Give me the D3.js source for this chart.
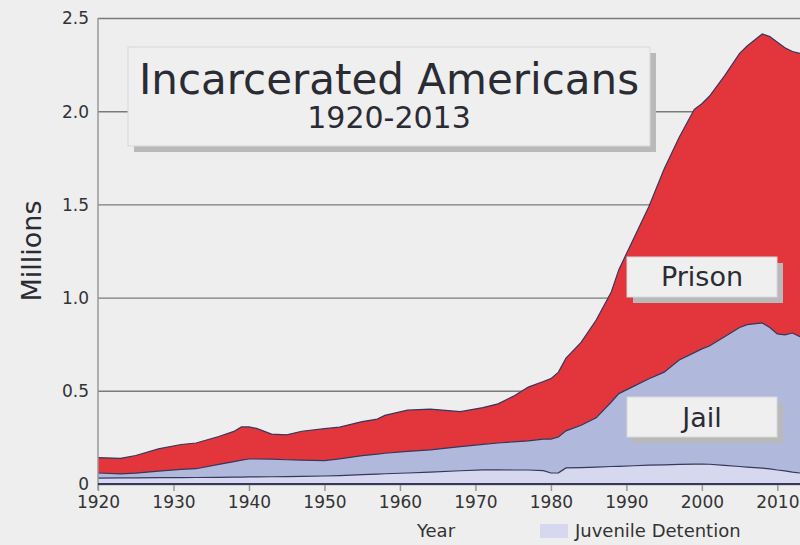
<!DOCTYPE html>
<html>
<head>
<meta charset="utf-8">
<script src="https://cdn.jsdelivr.net/npm/d3@7"></script>
<style>
  body { margin: 0; background: #eeeeee; }
  svg { display: block; font-family: 'DejaVu Sans', sans-serif; }
  .ticktext { fill: #333; font-size: 17px; font-family: 'DejaVu Sans', sans-serif; }
</style>
</head>
<body>
<svg width="800" height="545"></svg>
<script>
// data (millions)
const years = [1920, 1923, 1925, 1928, 1931, 1933, 1936, 1938, 1939, 1940, 1941, 1943, 1945, 1947, 1950,
  1952, 1955, 1957, 1958, 1961, 1964, 1968, 1971, 1973, 1975, 1977, 1979, 1980, 1981, 1982, 1984, 1986,
  1988, 1989, 1991, 1993, 1995, 1997, 1999, 2000, 2001, 2003, 2005, 2006, 2008, 2009, 2010, 2011, 2012, 2013];
const juvenile = [0.032, 0.033, 0.033, 0.034, 0.034, 0.035, 0.036, 0.037, 0.037, 0.038, 0.038, 0.039, 0.040, 0.041, 0.043,
  0.045, 0.050, 0.053, 0.055, 0.059, 0.064, 0.071, 0.076, 0.076, 0.075, 0.075, 0.072, 0.059, 0.060, 0.086, 0.088, 0.091,
  0.094, 0.095, 0.098, 0.101, 0.103, 0.105, 0.107, 0.107, 0.106, 0.100, 0.094, 0.091, 0.085, 0.081, 0.075, 0.070, 0.064, 0.059];
const jail = [0.027, 0.021, 0.025, 0.035, 0.044, 0.047, 0.069, 0.083, 0.091, 0.096, 0.096, 0.094, 0.090, 0.087, 0.082,
  0.090, 0.102, 0.107, 0.110, 0.116, 0.119, 0.129, 0.137, 0.144, 0.151, 0.156, 0.169, 0.182, 0.192, 0.199, 0.227, 0.264,
  0.346, 0.390, 0.427, 0.464, 0.497, 0.560, 0.598, 0.618, 0.634, 0.690, 0.746, 0.764, 0.779, 0.759, 0.730, 0.730, 0.746, 0.731];
const prison = [0.082, 0.084, 0.095, 0.119, 0.134, 0.138, 0.150, 0.162, 0.178, 0.172, 0.164, 0.135, 0.134, 0.155, 0.172,
  0.170, 0.183, 0.188, 0.203, 0.221, 0.219, 0.188, 0.197, 0.210, 0.244, 0.289, 0.309, 0.324, 0.348, 0.390, 0.445, 0.525,
  0.590, 0.665, 0.795, 0.925, 1.090, 1.195, 1.305, 1.315, 1.340, 1.400, 1.470, 1.495, 1.550, 1.560, 1.565, 1.540, 1.510, 1.520];

const seriesKeys = ['juvenile', 'jail', 'prison'];
const seriesColors = ['#d5d8ee', '#b0b8dc', '#e3363c'];
const yTicks = [0, 0.5, 1.0, 1.5, 2.0, 2.5];
const yTickLabels = ['0', '0.5', '1.0', '1.5', '2.0', '2.5'];
const xTicks = [1920, 1930, 1940, 1950, 1960, 1970, 1980, 1990, 2000, 2010];

const svg = d3.select('svg');
const width = +svg.attr('width');
const height = +svg.attr('height');

const rows = years.map((y, i) => ({ year: y, juvenile: juvenile[i], jail: jail[i], prison: prison[i] }));

const margin = { top: 18, bottom: 61, left: 98, right: 0 };
const innerWidth = width - margin.left - margin.right;
const innerHeight = height - margin.top - margin.bottom;

const g = svg.append('g')
  .attr('transform', `translate(${margin.left},${margin.top})`);

const xScale = d3.scaleLinear().domain([1920, 2013]).range([0, innerWidth]);
const yScale = d3.scaleLinear().domain([0, 2.5]).range([innerHeight, 0]);

// gridlines + y labels
g.append('g').call(d3.axisLeft(yScale).tickValues(yTicks).tickFormat((d, i) => yTickLabels[i]).tickSize(0).tickPadding(9))
  .attr('font-size', null).attr('font-family', null)
  .call(s => s.select('.domain').remove())
  .call(s => s.selectAll('.tick line').attr('x2', innerWidth).attr('stroke', '#7a7a7a').attr('stroke-width', 1.4))
  .call(s => s.selectAll('.tick text').attr('class', 'ticktext').attr('dy', '0.35em'));

const stack = d3.stack().keys(seriesKeys);
const layers = stack(rows);

const area = d3.area()
  .x(d => xScale(d.data.year))
  .y0(d => yScale(d[0]))
  .y1(d => yScale(d[1]));

const line = d3.line()
  .x(d => xScale(d.data.year))
  .y(d => yScale(d[1]));

g.selectAll('.layer')
  .data(layers).enter()
  .append('path')
    .attr('class', 'layer')
    .attr('d', area)
    .attr('fill', (d, i) => seriesColors[i]);

g.selectAll('.edge')
  .data(layers).enter()
  .append('path')
    .attr('class', 'edge')
    .attr('d', line)
    .attr('fill', 'none')
    .attr('stroke', '#35375c')
    .attr('stroke-width', 1.2);

// left axis line
g.append('line')
  .attr('x1', 0).attr('x2', 0)
  .attr('y1', 0).attr('y2', innerHeight + 6)
  .attr('stroke', '#999').attr('stroke-width', 1.5);

// x axis
g.append('g').call(d3.axisBottom(xScale).tickValues(xTicks).tickFormat(d3.format('d')).tickSize(7).tickPadding(5))
  .attr('transform', `translate(0,${innerHeight})`)
  .attr('font-size', null).attr('font-family', null)
  .call(s => s.select('.domain').remove())
  .call(s => s.selectAll('.tick line').attr('stroke', '#999').attr('stroke-width', 1.5))
  .call(s => s.selectAll('.tick text').attr('class', 'ticktext'));

g.append('line')
  .attr('x1', 0).attr('x2', innerWidth)
  .attr('y1', innerHeight).attr('y2', innerHeight)
  .attr('stroke', '#35375c').attr('stroke-width', 2);

// labelled boxes with drop shadows
const box = (x, y, w, h) => {
  g.append('rect').attr('x', x + 6).attr('y', y + 6).attr('width', w).attr('height', h).attr('fill', '#b9b9bb');
  g.append('rect').attr('x', x).attr('y', y).attr('width', w).attr('height', h)
    .attr('fill', '#efefef').attr('stroke', '#d8d8d8').attr('stroke-width', 1);
};

box(30, 29, 522, 99);
g.append('text').text('Incarcerated Americans')
  .attr('x', 291).attr('y', 76).attr('text-anchor', 'middle')
  .attr('fill', '#2b2b33').style('font-size', '42px');
g.append('text').text('1920-2013')
  .attr('x', 291).attr('y', 110).attr('text-anchor', 'middle')
  .attr('fill', '#2b2b33').style('font-size', '30px');

box(529, 239, 150, 40);
g.append('text').text('Prison')
  .attr('x', 604).attr('y', 268).attr('text-anchor', 'middle')
  .attr('fill', '#2b2b33').style('font-size', '27px');

box(529, 379, 150, 40);
g.append('text').text('Jail')
  .attr('x', 604).attr('y', 409).attr('text-anchor', 'middle')
  .attr('fill', '#2b2b33').style('font-size', '27px');

// axis titles
svg.append('text')
  .attr('text-anchor', 'middle')
  .attr('transform', 'translate(41,251) rotate(-90)')
  .attr('fill', '#2b2b33').style('font-size', '27px')
  .text('Millions');

svg.append('text').text('Year')
  .attr('x', 436).attr('y', 537).attr('text-anchor', 'middle')
  .attr('fill', '#333').style('font-size', '18px');

// legend
svg.append('rect').attr('x', 540).attr('y', 524).attr('width', 28).attr('height', 14).attr('fill', seriesColors[0]);
svg.append('text').text('Juvenile Detention')
  .attr('x', 575).attr('y', 537)
  .attr('fill', '#333').style('font-size', '18px');
</script>
</body>
</html>
